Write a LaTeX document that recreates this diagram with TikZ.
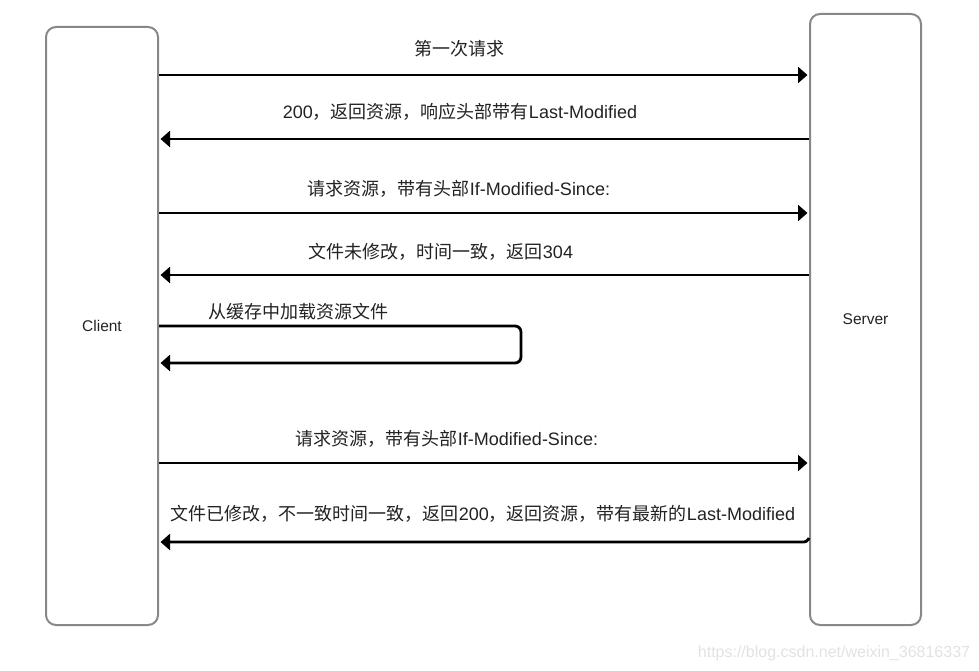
\documentclass[tikz,border=0pt]{standalone}
\usepackage{fontspec}
\setmainfont{Liberation Sans}
\newfontfamily\cjk{Noto Sans CJK SC}
\usetikzlibrary{arrows.meta}
\definecolor{boxgray}{HTML}{888888}
\definecolor{txt}{HTML}{222222}
\definecolor{wm}{HTML}{E2E2E2}
\tikzset{
  lifebox/.style={draw=boxgray, line width=2pt, rounded corners=10pt, minimum width=#1, inner sep=0pt, font=\fontsize{15.5}{18}\selectfont, text=txt},
  msg/.style={draw=black, line width=2.8pt, -{Triangle[length=9.5pt,width=16pt]}, shorten >=1.5pt},
  lbl/.style={font=\fontsize{18}{21}\selectfont, text=txt, inner sep=0pt}
}
\begin{document}
\begin{tikzpicture}[x=1pt,y=-1pt]
\useasboundingbox (0,0) rectangle (979,671);
\node[lifebox=112pt, minimum height=598pt] (client) at (102,326) {Client};
\node[lifebox=111pt, minimum height=611pt] (server) at (865.5,319.5) {Server};

\draw[msg] (client.east |- 0,75) -- (server.west |- 0,75);
\draw[msg] (server.west |- 0,139) -- (client.east |- 0,139);
\draw[msg] (client.east |- 0,213) -- (server.west |- 0,213);
\draw[msg] (server.west |- 0,275) -- (client.east |- 0,275);
\coordinate (loopR1) at (521,326);
\coordinate (loopR2) at (521,363);
\draw[msg, rounded corners=6pt] (client.east |- 0,326) -- (loopR1) -- (loopR2) -- (client.east |- 0,363);
\draw[msg] (client.east |- 0,463) -- (server.west |- 0,463);
\coordinate (lastStart) at (server.west |- 0,538);
\draw[msg, rounded corners=3pt] (lastStart) -- ++(-2,4) -- (client.east |- 0,542);

\node[lbl] (l1) at (459,49) {{\cjk 第一次请求}};
\node[lbl] (l2) at (460,112) {200{\cjk ，返回资源，响应头部带有}Last-Modified};
\node[lbl] (l3) at (459,189) {{\cjk 请求资源，带有头部}If-Modified-Since:};
\node[lbl] (l4) at (441,252) {{\cjk 文件未修改，时间一致，返回}304};
\node[lbl] (l5) at (298,312) {{\cjk 从缓存中加载资源文件}};
\node[lbl] (l6) at (447,439) {{\cjk 请求资源，带有头部}If-Modified-Since:};
\node[lbl] (l7) at (483,514) {{\cjk 文件已修改，不一致时间一致，返回}200{\cjk ，返回资源，带有最新的}Last-Modified};

\node[font=\fontsize{16}{19}\selectfont, text=wm, inner sep=0pt] (wmark) at (834,653) {https://blog.csdn.net/weixin\_36816337};
\end{tikzpicture}
\end{document}
